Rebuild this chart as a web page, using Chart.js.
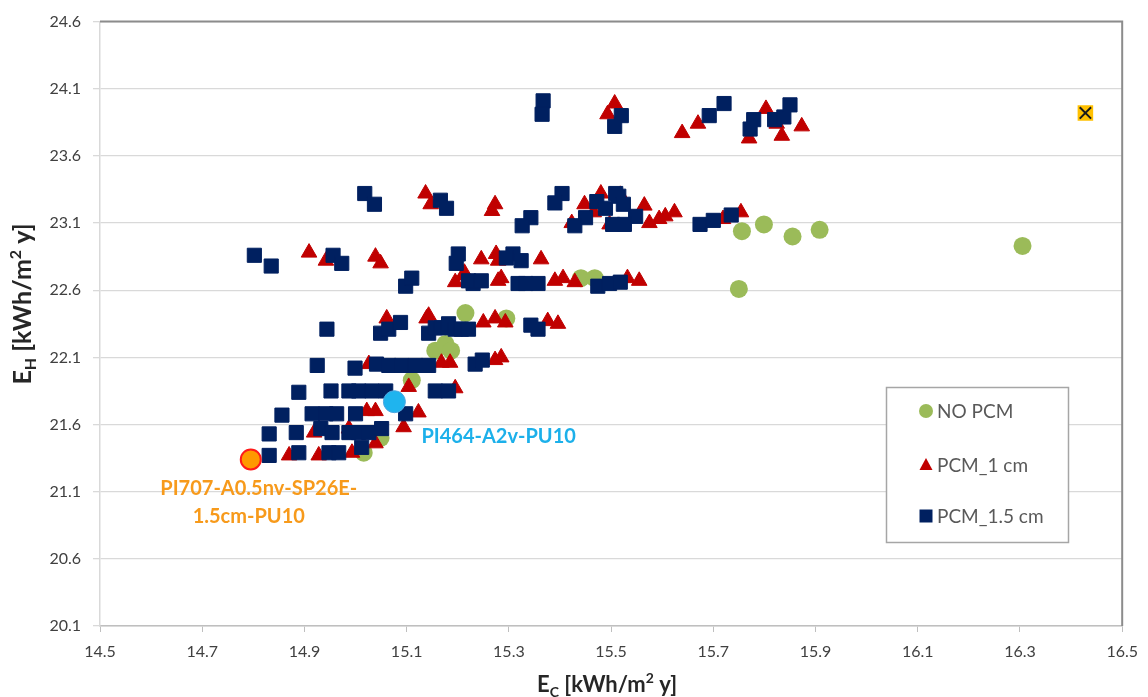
<!DOCTYPE html>
<html>
<head>
<meta charset="utf-8">
<script src="https://cdn.jsdelivr.net/npm/chart.js@4/dist/chart.umd.min.js"></script>
<style>
  html, body { margin: 0; padding: 0; background: #fff; }
  #wrap { width: 1148px; height: 697px; position: relative; }
</style>
</head>
<body>
<div id="wrap"><canvas id="myChart"></canvas></div>
<script>
// axis ticks
const xTicks = [14.5, 14.7, 14.9, 15.1, 15.3, 15.5, 15.7, 15.9, 16.1, 16.3, 16.5];
const yTicks = [20.1, 20.6, 21.1, 21.6, 22.1, 22.6, 23.1, 23.6, 24.1, 24.6];

// series: [Ec, Eh]
const noPcm = [
  [15.756, 23.04], [15.799, 23.09], [15.855, 23.00], [15.908, 23.05], [16.305, 22.93], [15.750, 22.61],
  [15.441, 22.69], [15.468, 22.69], [15.215, 22.43], [15.295, 22.39],
  [15.156, 22.15], [15.176, 22.20], [15.187, 22.15], [15.110, 21.93],
  [15.049, 21.50], [15.016, 21.39]
];

const pcm1 = [
  [15.507, 23.99], [15.493, 23.91], [15.639, 23.77], [15.670, 23.84], [15.803, 23.95],
  [15.770, 23.73], [15.824, 23.84], [15.834, 23.75], [15.873, 23.82],
  [15.273, 23.24], [15.267, 23.19], [15.448, 23.24], [15.466, 23.18], [15.423, 23.10],
  [15.480, 23.32], [15.565, 23.23], [15.575, 23.10], [15.594, 23.13], [15.606, 23.15],
  [15.624, 23.18], [15.719, 23.13], [15.754, 23.18], [15.497, 23.09], [15.518, 23.31],
  [15.137, 23.32], [15.147, 23.24],
  [14.909, 22.88], [14.942, 22.82], [15.039, 22.85], [15.049, 22.80], [15.246, 22.83],
  [15.275, 22.87], [15.279, 22.82], [15.363, 22.83], [15.213, 22.73], [15.195, 22.66],
  [15.211, 22.71], [15.279, 22.67], [15.285, 22.69], [15.390, 22.67], [15.406, 22.69],
  [15.429, 22.66], [15.532, 22.69], [15.555, 22.67],
  [15.139, 22.39], [15.250, 22.36], [15.273, 22.39], [15.293, 22.36], [15.376, 22.37],
  [15.396, 22.35], [15.061, 22.39], [15.143, 22.41],
  [15.026, 22.05], [15.168, 22.06], [15.185, 22.06], [15.273, 22.08], [15.285, 22.10],
  [15.104, 21.88], [15.195, 21.87],
  [15.022, 21.70], [15.039, 21.70], [15.123, 21.69],
  [14.919, 21.54], [14.987, 21.57], [15.094, 21.58], [15.039, 21.46],
  [14.870, 21.37], [14.928, 21.37], [14.993, 21.39]
];

const pcm15 = [
  [15.367, 24.01], [15.365, 23.91], [15.520, 23.90], [15.507, 23.82], [15.692, 23.90],
  [15.721, 23.99], [15.779, 23.87], [15.772, 23.80], [15.820, 23.87], [15.838, 23.89],
  [15.850, 23.98],
  [15.018, 23.32], [15.037, 23.24], [15.166, 23.27], [15.178, 23.21], [15.404, 23.32],
  [15.390, 23.25], [15.343, 23.14], [15.326, 23.08], [15.472, 23.26], [15.489, 23.21],
  [15.509, 23.32], [15.515, 23.30], [15.524, 23.24], [15.548, 23.15], [15.503, 23.09],
  [15.526, 23.09], [15.450, 23.14], [15.429, 23.08], [15.674, 23.09], [15.700, 23.12],
  [15.735, 23.16],
  [14.802, 22.86], [14.835, 22.78], [14.956, 22.86], [14.973, 22.80], [15.201, 22.87],
  [15.197, 22.80], [15.308, 22.87], [15.295, 22.84], [15.324, 22.82], [15.098, 22.63],
  [15.110, 22.69],
  [15.230, 22.65], [15.221, 22.67], [15.246, 22.67], [15.318, 22.65], [15.333, 22.65],
  [15.357, 22.65], [15.474, 22.63], [15.497, 22.65], [15.518, 22.66],
  [14.944, 22.31], [15.049, 22.28], [15.065, 22.31], [15.088, 22.36], [15.143, 22.28],
  [15.156, 22.32], [15.168, 22.32], [15.182, 22.35], [15.195, 22.31], [15.207, 22.31],
  [15.221, 22.31], [15.343, 22.34], [15.357, 22.31],
  [14.925, 22.04], [14.999, 22.02], [15.041, 22.05], [15.065, 22.04], [15.090, 22.04],
  [15.117, 22.04], [15.143, 22.04], [15.234, 22.05], [15.248, 22.08],
  [14.889, 21.84], [14.952, 21.85], [14.987, 21.85], [15.006, 21.85], [15.032, 21.85],
  [15.059, 21.85], [15.156, 21.85], [15.182, 21.85],
  [14.856, 21.67], [14.915, 21.68], [14.942, 21.68], [14.963, 21.68], [15.000, 21.68],
  [15.098, 21.68],
  [14.831, 21.53], [14.884, 21.54], [14.932, 21.57], [14.954, 21.54], [14.987, 21.54],
  [15.006, 21.54], [15.026, 21.54], [15.051, 21.57],
  [14.831, 21.37], [14.889, 21.39], [14.948, 21.39], [14.967, 21.39], [15.012, 21.43]
];

// highlighted cases
const bestCase = [14.795, 21.34];
const bestLabel = ['PI707-A0.5nv-SP26E-', '1.5cm-PU10'];
const refCase = [15.076, 21.77];
const refLabel = 'PI464-A2v-PU10';
const baseCase = [16.428, 23.92];

const toPts = arr => arr.map(p => ({ x: p[0], y: p[1] }));

const GREEN = '#9bbb59', RED = '#c00000', NAVY = '#002060';
const FONT = 'Lato, "Noto Sans", sans-serif';

// axis titles with sub/superscripts
const axisTitles = {
  id: 'axisTitles',
  afterDraw(chart) {
    const ctx = chart.ctx, a = chart.chartArea;
    function title(sub, x, y, rot, size) {
      ctx.save();
      ctx.translate(x, y);
      ctx.rotate(rot);
      ctx.fillStyle = '#262626';
      ctx.textBaseline = 'alphabetic';
      const big = 'bold ' + size + 'px ' + FONT, small = 'bold ' + Math.round(size * 0.62) + 'px ' + FONT;
      const parts = [['E', big, 0], [sub, small, size * 0.22], [' [kWh/m', big, 0], ['2', small, -size * 0.38], [' y]', big, 0]];
      let w = 0;
      parts.forEach(p => { ctx.font = p[1]; w += ctx.measureText(p[0]).width; });
      let cx = -w / 2;
      parts.forEach(p => {
        ctx.font = p[1];
        ctx.fillText(p[0], cx, size * 0.35 + p[2]);
        cx += ctx.measureText(p[0]).width;
      });
      ctx.restore();
    }
    title('C', (a.left + a.right) / 2 - 4, 684, 0, 22);
    title('H', 22, 304, -Math.PI / 2, 25);
  }
};

// frame on top and right, case labels, legend box
const extras = {
  id: 'extras',
  afterDraw(chart) {
    const ctx = chart.ctx, a = chart.chartArea;
    const xs = chart.scales.x, ys = chart.scales.y;
    ctx.save();
    ctx.strokeStyle = '#8c8c8c';
    ctx.lineWidth = 2;
    ctx.beginPath();
    ctx.moveTo(a.left, a.top);
    ctx.lineTo(a.right, a.top);
    ctx.lineTo(a.right, a.bottom);
    ctx.stroke();

    ctx.font = 'bold 20px ' + FONT;
    ctx.textBaseline = 'middle';
    const bx = xs.getPixelForValue(bestCase[0]), by = ys.getPixelForValue(bestCase[1]);
    ctx.fillStyle = '#f79a1b';
    ctx.textAlign = 'center';
    ctx.fillText(bestLabel[0], bx + 8, by + 29);
    ctx.fillText(bestLabel[1], bx - 2, by + 57);
    const rx = xs.getPixelForValue(refCase[0]), ry = ys.getPixelForValue(refCase[1]);
    ctx.fillStyle = '#1cb0ea';
    ctx.textAlign = 'left';
    ctx.fillText(refLabel, rx + 27, ry + 35);

    // legend
    const lx = 886.5, ly = 387.5, lw = 182, lh = 155;
    ctx.fillStyle = '#fff';
    ctx.fillRect(lx, ly, lw, lh);
    ctx.strokeStyle = '#a6a6a6';
    ctx.lineWidth = 1.5;
    ctx.strokeRect(lx, ly, lw, lh);
    const items = [['NO PCM', GREEN, 'circle'], ['PCM_1 cm', RED, 'triangle'], ['PCM_1.5 cm', NAVY, 'rect']];
    const rows = [411, 465, 516];
    ctx.font = '19px ' + FONT;
    ctx.textAlign = 'left';
    items.forEach((it, i) => {
      const mx = 926, my = rows[i];
      ctx.fillStyle = it[1];
      ctx.beginPath();
      if (it[2] === 'circle') ctx.arc(mx, my, 7, 0, Math.PI * 2);
      else if (it[2] === 'triangle') { ctx.moveTo(mx, my - 7); ctx.lineTo(mx + 6.5, my + 5); ctx.lineTo(mx - 6.5, my + 5); ctx.closePath(); }
      else ctx.rect(mx - 6.5, my - 6.5, 13, 13);
      ctx.fill();
      ctx.fillStyle = '#595959';
      ctx.fillText(it[0], 937, my + 1);
    });
    ctx.restore();
  }
};

const ctx = document.getElementById('myChart').getContext('2d');
const myChart = new Chart(ctx, {
  type: 'scatter',
  data: {
    datasets: [
      { label: 'best', data: toPts([bestCase]), order: 0, pointStyle: 'circle', pointRadius: 10,
        backgroundColor: '#ff9900', borderColor: '#ff1a1a', borderWidth: 2 },
      { label: 'ref', data: toPts([refCase]), order: 1, pointStyle: 'circle', pointRadius: 11,
        backgroundColor: '#1fb4ee', borderColor: '#4da6e0', borderWidth: 1 },
      { label: 'base x', data: toPts([baseCase]), order: 2, pointStyle: 'crossRot', pointRadius: 8,
        borderColor: '#1a1a1a', borderWidth: 2 },
      { label: 'base', data: toPts([baseCase]), order: 3, pointStyle: 'rect', pointRadius: 11,
        backgroundColor: '#ffc000', borderColor: '#ffc000', borderWidth: 0 },
      { label: 'PCM_1.5 cm', data: toPts(pcm15), order: 4, pointStyle: 'rect', pointRadius: 10,
        backgroundColor: NAVY, borderColor: NAVY, borderWidth: 1 },
      { label: 'PCM_1 cm', data: toPts(pcm1), order: 5, pointStyle: 'triangle', pointRadius: 9,
        backgroundColor: RED, borderColor: RED, borderWidth: 1 },
      { label: 'NO PCM', data: toPts(noPcm), order: 6, pointStyle: 'circle', pointRadius: 9,
        backgroundColor: GREEN, borderColor: GREEN, borderWidth: 0 }
    ]
  },
  options: {
    responsive: true,
    maintainAspectRatio: false,
    animation: false,
    layout: { padding: { left: 0, top: 19, right: 21, bottom: 0 } },
    plugins: { legend: { display: false }, tooltip: { enabled: false } },
    scales: {
      x: {
        type: 'linear', min: 14.5, max: 16.5,
        afterBuildTicks: s => { s.ticks = xTicks.map(v => ({ value: v })); },
        afterFit: s => { s.height = 71; },
        grid: { drawOnChartArea: false, drawTicks: true, tickLength: 6, color: '#bfbfbf' },
        border: { color: '#bfbfbf', width: 1.5 },
        ticks: { padding: 10, color: '#404040', font: { family: FONT, size: 16 },
                 callback: v => v.toFixed(1), maxRotation: 0 }
      },
      y: {
        type: 'linear', min: 20.1, max: 24.6,
        afterBuildTicks: s => { s.ticks = yTicks.map(v => ({ value: v })); },
        afterFit: s => { s.width = 100; },
        grid: { color: '#d9d9d9', lineWidth: 1.3, drawTicks: true, tickLength: 7 },
        border: { color: '#d9d9d9', width: 1.5 },
        ticks: { padding: 12, color: '#404040', font: { family: FONT, size: 16 },
                 callback: v => v.toFixed(1) }
      }
    }
  },
  plugins: [axisTitles, extras]
});
</script>
</body>
</html>
